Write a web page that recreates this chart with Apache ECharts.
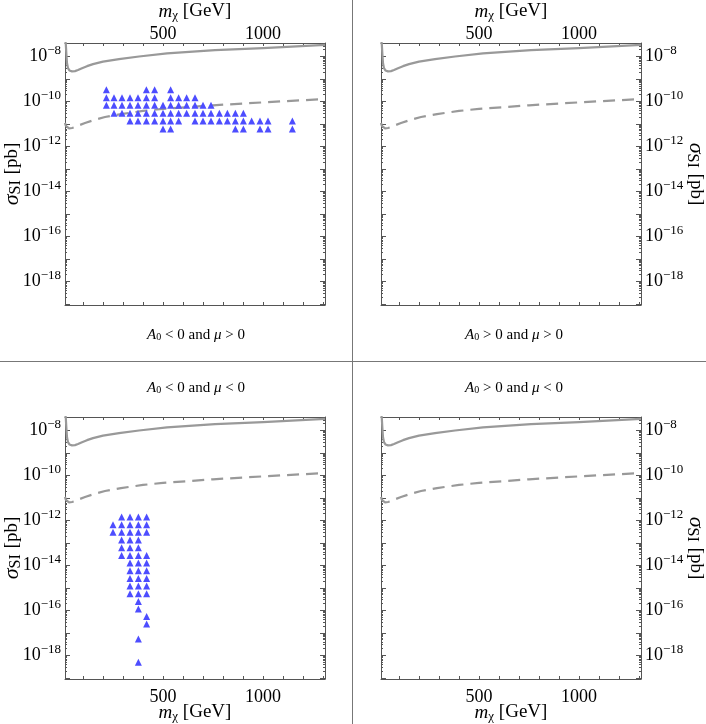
<!DOCTYPE html>
<html>
<head>
<meta charset="utf-8">
<script src="https://cdn.jsdelivr.net/npm/echarts@6/dist/echarts.min.js"></script>
<style>
  html, body { margin: 0; padding: 0; background: #fff; }
  #chart { width: 706px; height: 724px; }
</style>
</head>
<body>
<div id="chart"></div>
<script>
// masses in GeV, cross sections stored as log10(sigma_SI / pb)
const limitMass = [12, 14, 17, 20, 25, 32, 45, 60, 75, 95, 120, 150, 200, 280, 380, 520, 760, 1000, 1310]
const limitSolid = [-7.3, -7.45, -7.9, -8.3, -8.52, -8.62, -8.66, -8.65, -8.6, -8.52, -8.43, -8.34, -8.23, -8.12, -8.0, -7.86, -7.72, -7.63, -7.48]
const projMass = [10, 14, 20, 30, 45, 60, 80, 110, 160, 210, 290, 400, 500, 750, 1000, 1310]
const projDashed = [-10.95, -11.08, -11.16, -11.2, -11.18, -11.14, -11.06, -10.96, -10.81, -10.69, -10.56, -10.42, -10.33, -10.17, -10.04, -9.89]

// A0 < 0, mu > 0 : one row of scan points per cross-section level
const rowsNegAPosMu = [-9.48, -9.83, -10.17, -10.52, -10.87, -11.22]
const massNegAPosMu = [
	[217, 417, 458, 538],
	[217, 255, 295, 335, 375, 417, 458, 538, 578, 618, 660],
	[217, 255, 295, 335, 375, 417, 458, 500, 538, 578, 618, 660, 700, 740],
	[255, 295, 335, 375, 417, 458, 500, 538, 578, 618, 660, 700, 740, 782, 822, 862, 902],
	[335, 375, 417, 458, 500, 538, 578, 660, 700, 740, 782, 822, 862, 902, 943, 985, 1025, 1147],
	[500, 538, 862, 902, 985, 1025, 1147],
]

// A0 < 0, mu < 0
const rowsNegANegMu = [-11.85, -12.19, -12.53, -12.87, -13.21, -13.56, -13.89, -14.24, -14.58, -14.92, -15.26, -15.6, -15.94, -16.27, -16.6, -17.27, -18.31]
const massNegANegMu = [
	[293, 335, 377, 418],
	[250, 293, 335, 377, 418],
	[250, 293, 335, 377, 418],
	[293, 335, 377],
	[293, 335, 377],
	[293, 335, 377, 418],
	[335, 377, 418],
	[335, 377, 418],
	[335, 377, 418],
	[335, 377, 418],
	[335, 377, 418],
	[377],
	[377],
	[418],
	[418],
	[377],
	[377],
]

const massTicks = [100, 200, 300, 400, 500, 600, 700, 800, 900, 1000, 1100, 1200, 1300]
const massLabels = [500, 1000]
const decadeTicks = [-19, -18, -17, -16, -15, -14, -13, -12, -11, -10, -9, -8]
const decadeLabels = [-18, -16, -14, -12, -10, -8]

const SERIF = "'Liberation Serif', 'DejaVu Serif', serif"
const FRAME = "#555"
const massMin = 10
const massMax = 1310
const expMin = -19.05
const expMax = -7.4

const minorTicks = []
decadeTicks.forEach((d) => {
	for (let k = 2; k <= 9; k++) {
		const v = d + Math.log10(k)
		if (v < expMax) minorTicks.push(v)
	}
})

const panels = [
	{ left: 65, top: 43, xSide: "top", ySide: "left", points: [rowsNegAPosMu, massNegAPosMu] },
	{ left: 381, top: 43, xSide: "top", ySide: "right", points: null },
	{ left: 65, top: 417, xSide: "bottom", ySide: "left", points: [rowsNegANegMu, massNegANegMu] },
	{ left: 381, top: 417, xSide: "bottom", ySide: "right", points: null },
]

const captions = [
	{ x: 196, y: 335, text: "{i|A}{sub|0} < 0 and {i|μ} > 0" },
	{ x: 514, y: 335, text: "{i|A}{sub|0} > 0 and {i|μ} > 0" },
	{ x: 196, y: 388, text: "{i|A}{sub|0} < 0 and {i|μ} < 0" },
	{ x: 514, y: 388, text: "{i|A}{sub|0} > 0 and {i|μ} < 0" },
]

const nameRich = {
	i: { fontFamily: SERIF, fontStyle: "italic", fontSize: 19, color: "#000" },
	g: { fontFamily: SERIF, fontStyle: "italic", fontSize: 22, color: "#000" },
	sub: { fontFamily: SERIF, fontSize: 13, color: "#000", padding: [8, 0, 0, 0] },
	subs: { fontFamily: SERIF, fontSize: 16, color: "#000", padding: [8, 1, 0, 0] },
	t: { fontFamily: SERIF, fontSize: 19, color: "#000" },
}

const pairs = (xs, ys) => xs.map((x, k) => [x, ys[k]])

const rowsToPoints = (exps, masses) => {
	const pts = []
	exps.forEach((e, r) => masses[r].forEach((m) => pts.push([m, e])))
	return pts
}

const grid = []
const xAxis = []
const yAxis = []
const series = []

panels.forEach((p, i) => {
	grid.push({ left: p.left, top: p.top, width: 260, height: 262, containLabel: false, outerBoundsMode: "none" })
	const other = p.xSide === "top" ? "bottom" : "top"
	;[p.xSide, other].forEach((side, k) => {
		xAxis.push({
			type: "value",
			gridIndex: i,
			position: side,
			min: massMin,
			max: massMax,
			axisLine: { show: true, onZero: false, lineStyle: { color: FRAME, width: 1 } },
			axisTick: { show: true, inside: true, length: 3, customValues: massTicks, lineStyle: { color: FRAME } },
			axisLabel: {
				show: k === 0,
				customValues: massLabels,
				margin: side === "top" ? 0 : 9,
				formatter: (v) => String(v),
				fontFamily: SERIF,
				fontSize: 18,
				color: "#000",
			},
			splitLine: { show: false },
			name: k === 0 ? "{i|m}{sub|χ}{t| [GeV]}" : "",
			nameLocation: "middle",
			nameMoveOverlap: false,
			nameGap: side === "top" ? 21 : 23,
			nameTextStyle: { rich: nameRich },
		})
	})
	const yOther = p.ySide === "left" ? "right" : "left"
	;[p.ySide, yOther].forEach((side, k) => {
		yAxis.push({
			type: "value",
			gridIndex: i,
			position: side,
			min: expMin,
			max: expMax,
			axisLine: { show: true, onZero: false, lineStyle: { color: FRAME, width: 1 } },
			axisTick: { show: true, inside: true, length: 5, customValues: decadeTicks, lineStyle: { color: FRAME } },
			axisLabel: {
				show: k === 0,
				customValues: decadeLabels,
				margin: 4,
				formatter: (v) => "{b|10}{s|−" + Math.round(-v) + "}",
				rich: {
					b: { fontFamily: SERIF, fontSize: 18, color: "#000" },
					s: { fontFamily: SERIF, fontSize: 13, color: "#000", padding: [0, 0, 11, 0] },
				},
			},
			splitLine: { show: false },
			name: k === 0 ? "{g|σ}{subs|SI}{t| [pb]}" : "",
			nameLocation: "middle",
			nameMoveOverlap: false,
			nameRotate: side === "left" ? 90 : -90,
			nameGap: side === "left" ? 41 : 43,
			nameTextStyle: { rich: nameRich },
		})
	})
	;["left", "right"].forEach((side) => {
		yAxis.push({
			type: "value",
			gridIndex: i,
			position: side,
			min: expMin,
			max: expMax,
			axisLine: { show: false },
			axisTick: { show: true, inside: true, length: 2, customValues: minorTicks, lineStyle: { color: FRAME } },
			axisLabel: { show: false },
			splitLine: { show: false },
		})
	})

	const xi = 2 * i
	const yi = 4 * i
	series.push({
		type: "line",
		xAxisIndex: xi,
		yAxisIndex: yi,
		data: pairs(limitMass, limitSolid),
		symbol: "none",
		lineStyle: { color: "#999", width: 2.2, join: "round" },
		z: 3,
	})
	series.push({
		type: "line",
		xAxisIndex: xi,
		yAxisIndex: yi,
		data: pairs(projMass, projDashed),
		symbol: "none",
		lineStyle: { color: "#999", width: 2.2, type: [12, 7] },
		z: 3,
	})
	if (p.points) {
		series.push({
			type: "scatter",
			xAxisIndex: xi,
			yAxisIndex: yi,
			data: rowsToPoints(p.points[0], p.points[1]),
			symbol: "triangle",
			symbolSize: 7,
			itemStyle: { color: "#4d4dff", opacity: 1 },
			z: 4,
		})
	}
})

const graphic = [
	{ type: "line", shape: { x1: 352.5, y1: 0, x2: 352.5, y2: 724 }, style: { stroke: "#777", lineWidth: 1 } },
	{ type: "line", shape: { x1: 0, y1: 361.5, x2: 706, y2: 361.5 }, style: { stroke: "#777", lineWidth: 1 } },
]
captions.forEach((c) => {
	graphic.push({
		type: "text",
		x: c.x,
		y: c.y,
		style: {
			text: c.text,
			align: "center",
			verticalAlign: "middle",
			fontFamily: SERIF,
			fontSize: 15,
			fill: "#000",
			rich: {
				i: { fontFamily: SERIF, fontStyle: "italic", fontSize: 15 },
				sub: { fontFamily: SERIF, fontSize: 10, padding: [5, 0, 0, 0] },
			},
		},
	})
})

const chart = echarts.init(document.getElementById("chart"))
chart.setOption({
	animation: false,
	backgroundColor: "#fff",
	grid,
	xAxis,
	yAxis,
	series,
	graphic,
})
</script>
</body>
</html>
